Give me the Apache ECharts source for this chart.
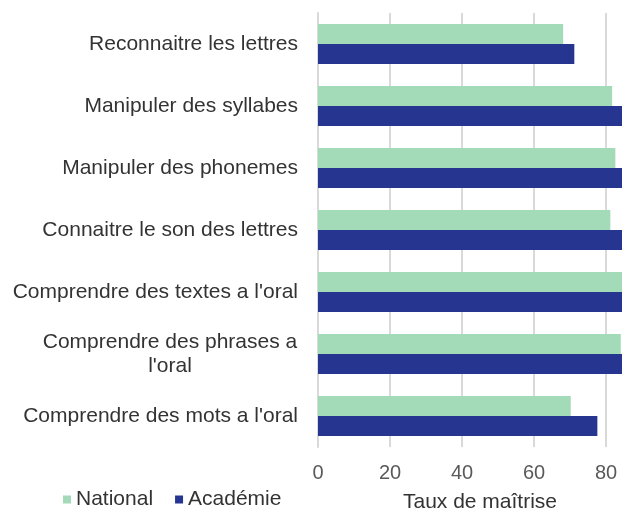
<!DOCTYPE html>
<html>
<head>
<meta charset="utf-8">
<script src="https://cdn.jsdelivr.net/npm/echarts@6/dist/echarts.min.js"></script>
<style>
  html, body { margin: 0; padding: 0; background: #fff; }
  #chart { width: 622px; height: 512px; }
</style>
</head>
<body>
<div id="chart"></div>
<script>
// competences, de haut en bas
const categories = [
  'Reconnaitre les lettres',
  'Manipuler des syllabes',
  'Manipuler des phonemes',
  'Connaitre le son des lettres',
  'Comprendre des textes a l\'oral',
  'Comprendre des phrases a l\'oral',
  'Comprendre des mots a l\'oral'
]
const national = [68.1, 81.7, 82.6, 81.2, 85.5, 84.1, 70.2]
const academie = [71.2, 86.5, 86.0, 85.5, 88.0, 87.0, 77.6]
const xTicks = [0, 20, 40, 60, 80]

const font = 'Liberation Sans, Arial, sans-serif'
const chart = echarts.init(document.getElementById('chart'))

const option = {
  animation: false,
  textStyle: { fontFamily: font },
  grid: {
    left: 318,
    right: -20, // le graphique deborde a droite comme dans l'original
    top: 13,
    bottom: 65,
    outerBoundsMode: 'none',
    containLabel: false
  },
  legend: {
    left: 58,
    top: 484,
    itemWidth: 8,
    itemHeight: 8,
    itemGap: 22,
    icon: 'rect',
    textStyle: { fontSize: 21, color: '#333', fontFamily: font },
    data: ['National', 'Académie']
  },
  xAxis: {
    type: 'value',
    min: 0,
    max: 90,
    interval: 20,
    name: 'Taux de maîtrise',
    nameLocation: 'middle',
    nameGap: 45,
    nameTextStyle: { fontSize: 21, color: '#333' },
    axisLine: { show: false },
    axisTick: { show: false },
    axisLabel: {
      fontSize: 20,
      color: '#595959',
      margin: 16,
      formatter: function (v) {
        return xTicks.indexOf(v) >= 0 ? String(v) : ''
      }
    },
    splitLine: { lineStyle: { color: '#d9d9d9', width: 2 } }
  },
  yAxis: {
    type: 'category',
    inverse: true,
    data: categories,
    axisLine: { lineStyle: { color: '#d9d9d9', width: 2 } },
    axisTick: { show: false },
    axisLabel: {
      margin: 20,
      fontSize: 21,
      color: '#333',
      formatter: function (v) {
        if (v === 'Comprendre des phrases a l\'oral') {
          return '{c|Comprendre des phrases a}\n{c|l\'oral}'
        }
        return v
      },
      rich: {
        c: { width: 256, align: 'center', fontSize: 21, color: '#333', lineHeight: 24 }
      }
    }
  },
  series: [
    {
      name: 'National',
      type: 'bar',
      data: national,
      barWidth: 20,
      barGap: '0%',
      itemStyle: { color: '#a3dab7' }
    },
    {
      name: 'Académie',
      type: 'bar',
      data: academie,
      barWidth: 20,
      barGap: '0%',
      itemStyle: { color: '#253590' }
    }
  ]
}

chart.setOption(option)
</script>
</body>
</html>
